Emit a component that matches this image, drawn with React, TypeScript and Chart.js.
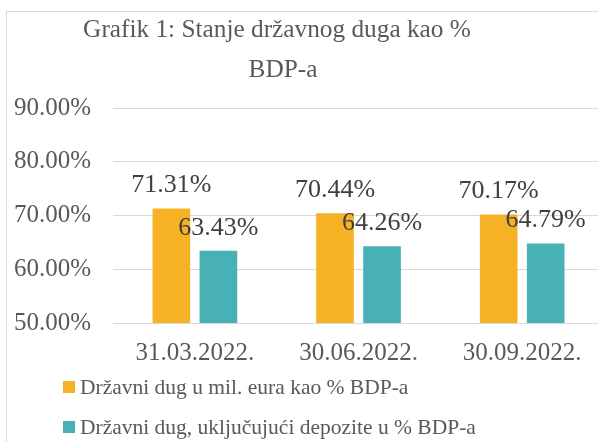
import React, { useEffect, useRef } from "react";
import { Chart, registerables } from "chart.js";

Chart.register(...registerables);

const categories = ["31.03.2022.", "30.06.2022.", "30.09.2022."];
const debtPct = [71.31, 70.44, 70.17];
const debtInclDepositsPct = [63.43, 64.26, 64.79];
const seriesLabels = [
  "Državni dug u mil. eura kao % BDP-a",
  "Državni dug, uključujući depozite u % BDP-a",
];
const seriesColors = ["#F6B124", "#47B1B5"];
const titleLines = ["Grafik 1: Stanje državnog duga kao %", "BDP-a"];
const yMin = 50;
const yMax = 90;
const yStep = 10;

const FONT = "'Liberation Serif', 'Times New Roman', serif";
const TEXT = "#595959";
const SHIFT = 8; // canvas is offset 8px to the left of the page

const fmt = (v: number) => v.toFixed(2) + "%";

const decorPlugin = {
  id: "decor",
  afterDatasetsDraw(chart: any) {
    const ctx = chart.ctx;
    ctx.save();
    ctx.font = `26px ${FONT}`;
    ctx.fillStyle = "#404040";
    ctx.textAlign = "center";
    ctx.textBaseline = "middle";
    chart.data.datasets.forEach((ds: any, di: number) => {
      const meta = chart.getDatasetMeta(di);
      meta.data.forEach((el: any, i: number) => {
        ctx.fillText(fmt(ds.data[i]), el.x, el.y - 23);
      });
    });
    ctx.restore();
  },
  afterDraw(chart: any) {
    const ctx = chart.ctx;
    ctx.save();
    // title
    ctx.font = `25.3px ${FONT}`;
    ctx.fillStyle = TEXT;
    ctx.textAlign = "center";
    ctx.textBaseline = "middle";
    ctx.fillText(titleLines[0], 277 + SHIFT, 30);
    ctx.fillText(titleLines[1], 283 + SHIFT, 70);
    // legend
    ctx.font = `21.5px ${FONT}`;
    ctx.textAlign = "left";
    const rows = [387, 427];
    chart.data.datasets.forEach((ds: any, di: number) => {
      const y = rows[di];
      ctx.fillStyle = ds.backgroundColor;
      ctx.fillRect(63 + SHIFT, y - 6, 12, 12);
      ctx.fillStyle = TEXT;
      ctx.fillText(ds.label, 80 + SHIFT, y + 1);
    });
    ctx.restore();
  },
};

export default function App() {
  const ref = useRef<HTMLCanvasElement>(null);
  useEffect(() => {
    if (!ref.current) return;
    const chart = new Chart(ref.current, {
      type: "bar",
      data: {
        labels: categories,
        datasets: [
          {
            label: seriesLabels[0],
            data: debtPct,
            backgroundColor: seriesColors[0],
            barPercentage: 0.8,
            categoryPercentage: 0.575,
          },
          {
            label: seriesLabels[1],
            data: debtInclDepositsPct,
            backgroundColor: seriesColors[1],
            barPercentage: 0.8,
            categoryPercentage: 0.575,
          },
        ],
      },
      options: {
        animation: false,
        responsive: false,
        maintainAspectRatio: false,
        layout: { padding: { top: 108, left: 0, right: 18, bottom: 59 } },
        plugins: {
          legend: { display: false },
          title: { display: false },
          tooltip: { enabled: false },
        },
        scales: {
          x: {
            grid: { display: false, drawTicks: false },
            border: { display: false },
            ticks: { color: TEXT, font: { family: FONT, size: 25 }, padding: 15 },
          },
          y: {
            min: yMin,
            max: yMax,
            grid: { color: "#D9D9D9", drawTicks: false },
            border: { display: false },
            ticks: {
              stepSize: yStep,
              color: TEXT,
              font: { family: FONT, size: 25 },
              padding: 22,
              callback: (v: any) => fmt(Number(v)),
            },
          },
        },
      },
      plugins: [decorPlugin],
    });
    return () => chart.destroy();
  }, []);

  return (
    <div
      style={{
        position: "fixed",
        left: 0,
        top: 0,
        width: 598,
        height: 442,
        overflow: "hidden",
        background: "#fff",
      }}
    >
      <div
        style={{
          position: "absolute",
          left: 6,
          top: 11,
          width: 700,
          height: 500,
          border: "1px solid #D9D9D9",
        }}
      />
      <canvas
        ref={ref}
        width={630}
        height={442}
        style={{ position: "absolute", left: -SHIFT, top: 0, display: "block" }}
      />
    </div>
  );
}
